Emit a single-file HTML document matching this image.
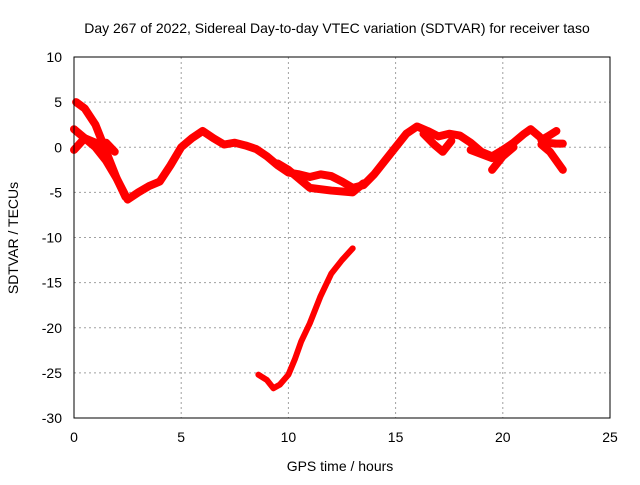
<!DOCTYPE html>
<html><head><meta charset="utf-8"><style>
body{margin:0;background:#fff}
svg{font-family:"Liberation Sans",sans-serif;font-size:14px}
</style></head><body>
<svg id="chart" width="640" height="480">
<text x="337" y="33" text-anchor="middle">Day 267 of 2022, Sidereal Day-to-day VTEC variation (SDTVAR) for receiver taso</text>
<text x="340" y="471" text-anchor="middle">GPS time / hours</text>
<text transform="translate(18,238) rotate(-90)" text-anchor="middle">SDTVAR / TECUs</text>
<g id="grid"></g><g id="ticks"></g><g id="series"></g>
<rect x="74" y="57" width="536" height="361" fill="none" stroke="#000" stroke-width="1"/>
</svg>
<script>
const xTicks=[0,5,10,15,20,25];
const yTicks=[10,5,0,-5,-10,-15,-20,-25,-30];
const seriesMain=[[0.1,5.0],[0.5,4.3],[1.0,2.5],[1.5,-0.5],[2.0,-3.5],[2.5,-5.8],[3.0,-5.0],[3.5,-4.3],[4.0,-3.8],[4.5,-2.0],[5.0,0],[5.5,1.0],[6.0,1.8],[6.5,1.0],[7.0,0.3],[7.5,0.5],[8.0,0.2],[8.5,-0.2],[9.0,-1.0],[9.5,-2.0],[10,-2.8],[10.5,-3.0],[11,-3.3],[11.5,-3.0],[12,-3.2],[12.5,-3.8],[13,-4.5],[13.5,-4.2],[14,-3.0],[14.5,-1.5],[15,0],[15.5,1.5],[16,2.3],[16.5,1.8],[17,1.2],[17.5,1.5],[18,1.3],[18.5,0.5],[19,-0.5],[19.5,-1],[20,-0.3],[20.5,0.5],[21,1.5],[21.3,2.0],[21.7,1.2],[22,0.5],[22.5,0.4],[22.8,0.4]];
const seriesB=[[0,2],[0.5,1],[1,0],[1.5,-1.5],[2,-3.5],[2.4,-5.5]];
const seriesC=[[0,-0.3],[0.5,1],[1,0.5],[1.5,0.5],[1.9,-0.5]];
const seriesD=[[9.5,-1.8],[10,-2.5],[10.5,-3.5],[11,-4.5],[12,-4.8],[13,-5],[13.5,-4]];
const seriesE=[[16.3,1.5],[16.8,0.3],[17.2,-0.5],[17.6,0.7]];
const seriesF=[[18.5,-0.3],[19.5,-1.2],[20,-0.8]];
const seriesG=[[19.5,-2.5],[20,-1],[20.5,0]];
const seriesH=[[21.8,0.3],[22.2,-0.5],[22.5,-1.5],[22.8,-2.5]];
const seriesI=[[21.8,0.8],[22.1,1.2],[22.5,1.8]];
const seriesLow=[[8.6,-25.2],[9.0,-25.8],[9.3,-26.7],[9.6,-26.3],[10.0,-25.2],[10.3,-23.5],[10.6,-21.5],[11.0,-19.5],[11.5,-16.5],[12.0,-14],[12.5,-12.5],[13.0,-11.2]];
const NS="http://www.w3.org/2000/svg";
const X=v=>74+v*536/25, Y=v=>57+(10-v)*361/40;
const grid=document.getElementById('grid'),ticks=document.getElementById('ticks'),ser=document.getElementById('series');
xTicks.forEach(t=>{
 const l=document.createElementNS(NS,'line');
 
 
 l.setAttribute('x1',X(t));l.setAttribute('x2',X(t));l.setAttribute('y1',57);l.setAttribute('y2',418);
 l.setAttribute('stroke','#a0a0a0');l.setAttribute('stroke-dasharray','2,3');grid.appendChild(l);
 const tx=document.createElementNS(NS,'text');
 
 
 tx.setAttribute('x',X(t));tx.setAttribute('y',442);tx.setAttribute('text-anchor','middle');tx.textContent=t;ticks.appendChild(tx);
});
yTicks.forEach(t=>{
 const l=document.createElementNS(NS,'line');
 
 
 l.setAttribute('x1',74);l.setAttribute('x2',610);l.setAttribute('y1',Y(t));l.setAttribute('y2',Y(t));
 l.setAttribute('stroke','#a0a0a0');l.setAttribute('stroke-dasharray','2,3');grid.appendChild(l);
 const tx=document.createElementNS(NS,'text');
 
 
 tx.setAttribute('x',62);tx.setAttribute('y',Y(t)+5);tx.setAttribute('text-anchor','end');tx.textContent=t;ticks.appendChild(tx);
});
[seriesMain,seriesB,seriesC,seriesD,seriesE,seriesF,seriesG,seriesH,seriesI,seriesLow].forEach((s,i)=>{
 const p=document.createElementNS(NS,'polyline');
 
 
 p.setAttribute('points',s.map(d=>X(d[0])+','+Y(d[1])).join(' '));
 p.setAttribute('fill','none');p.setAttribute('stroke','#ff0000');p.setAttribute('stroke-width',s===seriesLow?'6':'8');
 p.setAttribute('stroke-linejoin','round');p.setAttribute('stroke-linecap','round');ser.appendChild(p);
});
</script>
</body></html>
